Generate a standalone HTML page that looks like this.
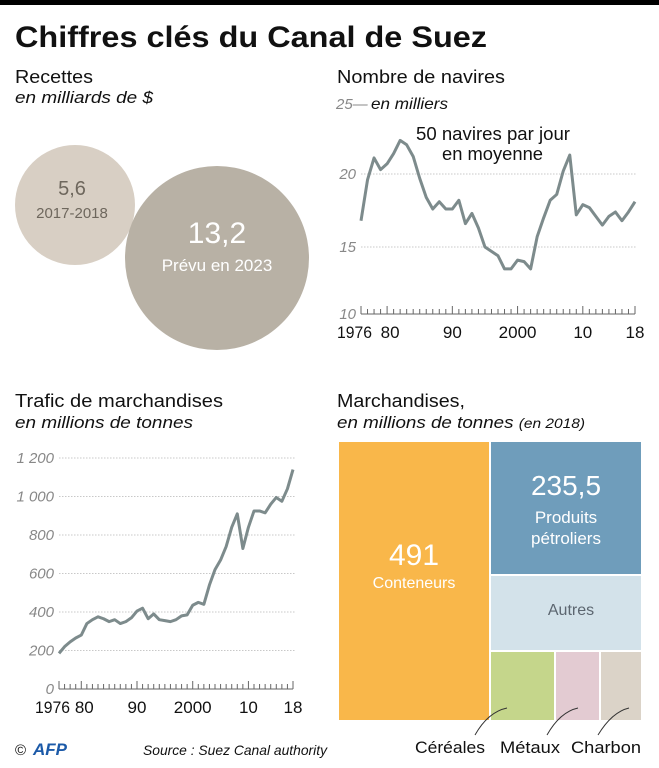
<!DOCTYPE html>
<html><head><meta charset="utf-8"><style>
body{margin:0;background:#fff}
svg{display:block;font-family:"Liberation Sans",sans-serif}
</style></head><body>
<svg width="659" height="768" viewBox="0 0 659 768">
<rect x="0" y="0" width="659" height="5" fill="#000"/>
<text x="15" y="47" font-size="30" font-weight="bold" fill="#111" textLength="472" lengthAdjust="spacingAndGlyphs">Chiffres clés du Canal de Suez</text>

<g>
<text x="15" y="83" font-size="18" fill="#111" textLength="78" lengthAdjust="spacingAndGlyphs">Recettes</text>
<text x="15" y="103" font-size="17" font-style="italic" fill="#111" textLength="138" lengthAdjust="spacingAndGlyphs">en milliards de $</text>
<circle cx="75" cy="205" r="60" fill="#d8cfc4"/>
<text x="72" y="195" font-size="20" fill="#6e675d" text-anchor="middle">5,6</text>
<text x="72" y="218" font-size="15" fill="#6e675d" text-anchor="middle">2017-2018</text>
<circle cx="217" cy="258" r="92" fill="#b8b1a5"/>
<text x="217" y="243" font-size="30" fill="#fff" text-anchor="middle">13,2</text>
<text x="217" y="271" font-size="17" fill="#fff" text-anchor="middle">Prévu en 2023</text>
</g>

<g id="ships">
<text x="337" y="83" font-size="18" fill="#111" textLength="168" lengthAdjust="spacingAndGlyphs">Nombre de navires</text>
<text x="371" y="109" font-size="16" font-style="italic" fill="#111" textLength="77" lengthAdjust="spacingAndGlyphs">en milliers</text>
<text x="416" y="140" font-size="18" fill="#111" textLength="154" lengthAdjust="spacingAndGlyphs">50 navires par jour</text>
<text x="442" y="160" font-size="18" fill="#111" textLength="101" lengthAdjust="spacingAndGlyphs">en moyenne</text>
</g>

<g id="cargo">
<text x="15" y="407" font-size="18" fill="#111" textLength="208" lengthAdjust="spacingAndGlyphs">Trafic de marchandises</text>
<text x="15" y="428" font-size="17" font-style="italic" fill="#111" textLength="178" lengthAdjust="spacingAndGlyphs">en millions de tonnes</text>
</g>

<g>
<text x="337" y="407" font-size="18" fill="#111" textLength="128" lengthAdjust="spacingAndGlyphs">Marchandises,</text>
<text x="337" y="428" font-size="17" font-style="italic" fill="#111" textLength="248" lengthAdjust="spacingAndGlyphs">en millions de tonnes <tspan font-size="14">(en 2018)</tspan></text>
<rect x="339" y="442" width="150" height="278" fill="#f9b74a"/>
<text x="414" y="565" font-size="30" fill="#fff" text-anchor="middle">491</text>
<text x="414" y="588" font-size="16" fill="#fff" text-anchor="middle">Conteneurs</text>
<rect x="491" y="442" width="150" height="132" fill="#6f9dbb"/>
<text x="566" y="495" font-size="28" fill="#fff" text-anchor="middle">235,5</text>
<text x="566" y="523" font-size="17" fill="#fff" text-anchor="middle">Produits</text>
<text x="566" y="544" font-size="17" fill="#fff" text-anchor="middle">pétroliers</text>
<rect x="491" y="576" width="150" height="74" fill="#d3e2ea"/>
<text x="571" y="615" font-size="16" fill="#5c6670" text-anchor="middle">Autres</text>
<rect x="491" y="652" width="63" height="68" fill="#c5d68b"/>
<rect x="556" y="652" width="43" height="68" fill="#e3cbd2"/>
<rect x="601" y="652" width="40" height="68" fill="#dbd3c8"/>
<path d="M507 708 Q488 712 475 735" fill="none" stroke="#333" stroke-width="1"/>
<path d="M578 708 Q560 712 547 735" fill="none" stroke="#333" stroke-width="1"/>
<path d="M629 708 Q612 712 598 735" fill="none" stroke="#333" stroke-width="1"/>
<text x="415" y="753" font-size="17" fill="#111" textLength="70" lengthAdjust="spacingAndGlyphs">Céréales</text>
<text x="500" y="753" font-size="17" fill="#111" textLength="60" lengthAdjust="spacingAndGlyphs">Métaux</text>
<text x="571" y="753" font-size="17" fill="#111" textLength="70" lengthAdjust="spacingAndGlyphs">Charbon</text>
</g>

<text x="15" y="755" font-size="15" fill="#111">©</text>
<text x="33" y="755" font-size="17" font-weight="bold" font-style="italic" fill="#1c5aa8">AFP</text>
<text x="143" y="755" font-size="14" font-style="italic" fill="#111" textLength="184" lengthAdjust="spacingAndGlyphs">Source : Suez Canal authority</text>
</svg>
<script>
const years = [];for(let y=1976;y<=2018;y++)years.push(y);
const shipValues = [16.8,19.6,21.1,20.3,20.7,21.4,22.3,22.0,21.2,19.7,18.4,17.6,18.1,17.6,17.6,18.2,16.6,17.3,16.3,15.0,14.7,14.4,13.5,13.5,14.1,14.0,13.5,15.7,17.0,18.2,18.6,20.2,21.3,17.2,17.9,17.7,17.1,16.5,17.1,17.4,16.8,17.4,18.1];
const shipTicks = [10,15,20];
const cargoValues = [185,220,245,265,280,340,360,375,365,350,360,340,350,370,405,420,365,390,360,355,350,360,380,385,435,450,440,540,620,670,740,840,910,730,840,925,925,915,960,995,975,1040,1140];
const cargoTicks = [0,200,400,600,800,1000,1200];
const cargoTickLabels = ["0","200","400","600","800","1 000","1 200"];
const xLabelYears = [1976,1980,1990,2000,2010,2018];
const xLabels = ["1976","80","90","2000","10","18"];
const NS="http://www.w3.org/2000/svg";
function mk(tag,attrs,parent){const e=document.createElementNS(NS,tag);for(const k in attrs)e.setAttribute(k,attrs[k]);parent.appendChild(e);return e;}
function drawChart(g,vals,ticks,tickLabels,x0,x1,vA,vB,pA,pB,axisY,gridRight){
  const xs=y=>x0+(y-1976)*(x1-x0)/42;
  const ys=v=>pA+(v-vA)*(pB-pA)/(vB-vA);
  ticks.forEach((t,i)=>{
    const y=(i===0)?axisY:ys(t);
    if(i!==0){const l=mk('line',{x1:x0,x2:gridRight,y1:y,y2:y,stroke:'#c8c8c8','stroke-width':1,'stroke-dasharray':'1.5,1.5'},g);
      
      }
    const tx=mk('text',{x:x0-5,y:y+5,'font-size':15,'font-style':'italic',fill:'#888','text-anchor':'end'},g);
    
    
    tx.textContent=tickLabels[i];
  });
  const by=axisY;
  const ax=mk('line',{x1:x0,x2:x1,y1:by,y2:by,stroke:'#666','stroke-width':1},g);
  
  
  years.forEach(yr=>{
    const major=xLabelYears.includes(yr)||yr%10===0;
    const t=mk('line',{x1:xs(yr),x2:xs(yr),y1:by,y2:by-(major?8:5),stroke:'#666','stroke-width':1},g);
    
    
  });
  xLabelYears.forEach((yr,i)=>{
    const attrs={x:xs(yr),y:by+24,'font-size':17,fill:'#111','text-anchor':'middle'};
    if(i===0){attrs.x=xs(yr)-24;attrs['text-anchor']='start';attrs.textLength=35;attrs.lengthAdjust='spacingAndGlyphs';}
    if(i===1){attrs.x=xs(yr)+3;}
    const t=mk('text',attrs,g);
    
    
    t.textContent=xLabels[i];
  });
  const p=mk('polyline',{points:vals.map((v,i)=>xs(years[i])+','+ys(v)).join(' '),fill:'none',stroke:'#7d8b8c','stroke-width':3,'stroke-linejoin':'round'},g);
  
  
}
const sg=document.getElementById('ships');
drawChart(sg,shipValues,shipTicks,shipTicks.map(String),361,635,15,20,247,174,314,636);
const t25=mk('text',{x:336,y:109,'font-size':15,'font-style':'italic',fill:'#888'},sg);


t25.textContent='25—';
const cg=document.getElementById('cargo');
drawChart(cg,cargoValues,cargoTicks,cargoTickLabels,59,293,0,1200,689,458,689,295);
</script>
</body></html>
